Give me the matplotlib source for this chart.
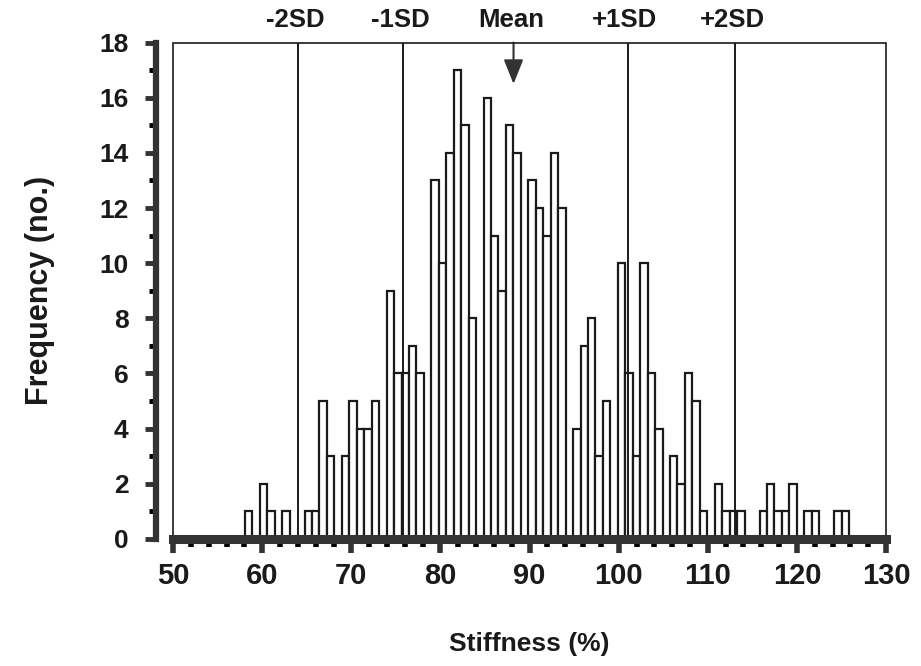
import numpy as np
import matplotlib.pyplot as plt
import matplotlib.transforms as mtransforms
from matplotlib.patches import Rectangle
from matplotlib.ticker import MultipleLocator

plt.rcParams['font.family'] = ['Liberation Sans', 'DejaVu Sans']
plt.rcParams['font.weight'] = 'bold'

# histogram: equal bins between these stiffness values
bin_start = 58.05
bin_end = 125.85
counts = [1, 0, 2, 1, 0, 1, 0, 0, 1, 1,
          5, 3, 0, 3, 5, 4, 4, 5, 0, 9,
          6, 6, 7, 6, 0, 13, 10, 14, 17, 15,
          8, 0, 16, 11, 9, 15, 14, 0, 13, 12,
          11, 14, 12, 0, 4, 7, 8, 3, 5, 0,
          10, 6, 3, 10, 6, 4, 0, 3, 2, 6,
          5, 1, 0, 2, 1, 1, 1, 0, 0, 1,
          2, 1, 1, 2, 0, 1, 1, 0, 0, 1, 1]

# reference lines at the top
sd_labels = ['-2SD', '-1SD', 'Mean', '+1SD', '+2SD']
sd_values = [64.0, 75.8, 88.2, 101.0, 113.1]

ink = '#1a1a1a'

fig = plt.figure(figsize=(9.21, 6.66), dpi=100)
ax = fig.add_axes([0.188, 0.191, 0.774, 0.745])

edges = np.linspace(bin_start, bin_end, len(counts) + 1)
counts = np.array(counts)
keep = counts > 0
ax.bar(edges[:-1][keep], counts[keep], width=np.diff(edges)[keep],
       align='edge', color='white', edgecolor=ink, linewidth=1.6, zorder=2)

trans = mtransforms.blended_transform_factory(ax.transData, ax.transAxes)
for lab, v in zip(sd_labels, sd_values):
    if lab == 'Mean':
        ax.annotate('', xy=(v, 16.5), xytext=(v, 18),
                    arrowprops=dict(arrowstyle='-|>,head_length=1.5,head_width=0.6',
                                    color='#333333', lw=1.5, shrinkA=0, shrinkB=0),
                    zorder=4)
    else:
        ax.axvline(v, color=ink, lw=1.4, zorder=3)
    ax.text(v - 0.3, 1.022, lab, transform=trans, ha='center', va='bottom',
            fontsize=18.5, fontweight='bold', color=ink)

# thin frame around the plotting area
ax.add_patch(Rectangle((0, 0), 1, 1, transform=ax.transAxes, fill=False,
                       lw=1.2, ec=ink, clip_on=False, zorder=5))

ax.set_xlim(50, 130)
ax.set_ylim(0, 18)
ax.spines['top'].set_visible(False)
ax.spines['right'].set_visible(False)
ax.spines['left'].set_position(('outward', 12))
ax.spines['left'].set_linewidth(4.5)
ax.spines['left'].set_color('#333333')
ax.spines['bottom'].set_linewidth(6.5)
ax.spines['bottom'].set_color('#333333')
ax.spines['bottom'].set_zorder(6)

ax.xaxis.set_major_locator(MultipleLocator(10))
ax.xaxis.set_minor_locator(MultipleLocator(2))
ax.yaxis.set_major_locator(MultipleLocator(2))
ax.yaxis.set_minor_locator(MultipleLocator(1))
ax.tick_params(axis='both', which='major', direction='out', color='#333333',
               labelcolor=ink)
ax.tick_params(axis='x', which='major', length=10, width=4, pad=7, labelsize=21)
ax.tick_params(axis='x', which='minor', length=6, width=4)
ax.tick_params(axis='y', which='major', length=8, width=3.5, pad=12, labelsize=19)
ax.tick_params(axis='y', which='minor', length=5, width=3.5)
for t in ax.get_xticklabels() + ax.get_yticklabels():
    t.set_fontweight('bold')

ax.set_xlabel('Stiffness (%)', fontsize=19, fontweight='bold', color=ink, labelpad=30)
ax.set_ylabel('Frequency (no.)', fontsize=22, fontweight='bold', color=ink, labelpad=32)

fig.savefig('out.png', dpi=100)
